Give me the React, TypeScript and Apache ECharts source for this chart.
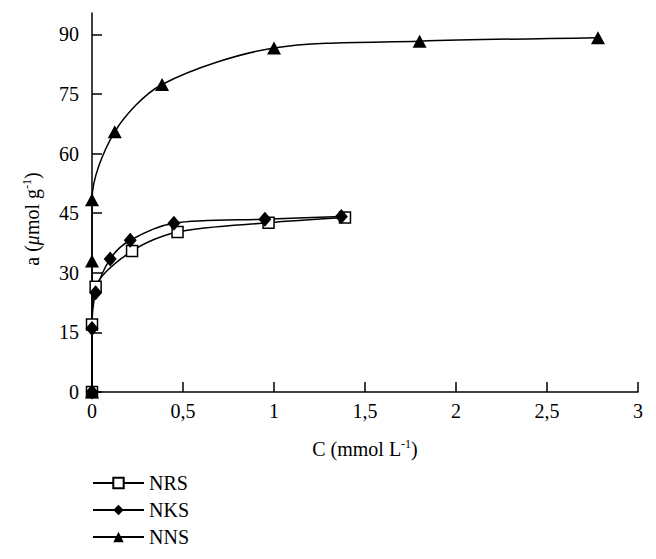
import React, { useEffect, useRef } from "react";
import * as echarts from "echarts";

const nrsX = [0, 0, 0.02, 0.22, 0.47, 0.97, 1.39];
const nrsY = [0, 17, 26.5, 35.5, 40.3, 42.6, 43.9];
const nksX = [0, 0, 0.02, 0.1, 0.21, 0.45, 0.95, 1.37];
const nksY = [0, 16, 25, 33.5, 38.2, 42.5, 43.5, 44.2];
const nnsX = [0, 0, 0, 0.125, 0.385, 1.0, 1.8, 2.78];
const nnsY = [0, 33, 48.4, 65.5, 77.4, 86.6, 88.3, 89.2];
const yTicks = [0, 15, 30, 45, 60, 75, 90];

const FONT = "Liberation Serif";

function pairs(xs: number[], ys: number[]) {
  return xs.map((x, i) => [x, ys[i]]);
}

export default function App() {
  const ref = useRef<HTMLDivElement>(null);
  useEffect(() => {
    if (!ref.current) return;
    const chart = echarts.init(ref.current, undefined, { renderer: "svg" });
    const lineStyle = { color: "#000", width: 1.5 };
    chart.setOption({
      animation: false,
      backgroundColor: "#fff",
      grid: { left: 92, right: 18, top: 13, bottom: 167 },
      xAxis: {
        type: "value",
        min: 0,
        max: 3,
        interval: 0.5,
        splitLine: { show: false },
        axisLine: { lineStyle: { color: "#000", width: 1.5 } },
        axisTick: { inside: true, length: 10, lineStyle: { color: "#000", width: 1.5 } },
        axisLabel: {
          color: "#000",
          fontFamily: FONT,
          fontSize: 20,
          margin: 9,
          formatter: (v: number) => String(v).replace(".", ","),
        },
        name: "{a|C (mmol L}{s|-1}{a|)}",
        nameLocation: "middle",
        nameGap: 46,
        nameTextStyle: {
          color: "#000",
          fontFamily: FONT,
          fontSize: 20,
          rich: {
            a: { fontFamily: FONT, fontSize: 20, color: "#000", lineHeight: 22 },
            s: { fontFamily: FONT, fontSize: 12, color: "#000", verticalAlign: "top", lineHeight: 22 },
          },
        },
      },
      yAxis: {
        type: "value",
        min: 0,
        max: 95.4,
        splitLine: { show: false },
        axisLine: { show: true, lineStyle: { color: "#000", width: 1.5 } },
        axisTick: { show: true, inside: true, length: 10, customValues: yTicks, lineStyle: { color: "#000", width: 1.5 } },
        axisLabel: {
          color: "#000",
          fontFamily: FONT,
          fontSize: 20,
          margin: 13,
          customValues: yTicks,
        },
      },
      legend: {
        orient: "vertical",
        left: 87,
        top: 467,
        itemWidth: 51,
        itemHeight: 13,
        itemGap: 5,
        textStyle: { color: "#000", fontFamily: FONT, fontSize: 20, lineHeight: 22 },
        data: ["NRS", "NKS", "NNS"],
      },
      graphic: [
        {
          type: "text",
          x: 32,
          y: 219,
          rotation: Math.PI / 2,
          style: {
            text: "{a|a (}{i|μ}{a|mol g}{s|-1}{a|)}",
            align: "center",
            verticalAlign: "middle",
            fill: "#000",
            font: `20px ${FONT}`,
            rich: {
              a: { fontFamily: FONT, fontSize: 20, fill: "#000", lineHeight: 22 },
              i: { fontFamily: FONT, fontSize: 20, fontStyle: "italic", fill: "#000", lineHeight: 22 },
              s: { fontFamily: FONT, fontSize: 12, fill: "#000", verticalAlign: "top", lineHeight: 22 },
            },
          },
        },
      ],
      series: [
        {
          name: "NRS",
          type: "line",
          data: pairs(nrsX, nrsY),
          smooth: 0.3,
          clip: false,
          symbol: "rect",
          symbolSize: 11,
          lineStyle,
          itemStyle: { color: "#fff", borderColor: "#000", borderWidth: 1.5 },
          z: 2,
        },
        {
          name: "NKS",
          type: "line",
          data: pairs(nksX, nksY),
          smooth: 0.3,
          clip: false,
          symbol: "diamond",
          symbolSize: [13, 15],
          lineStyle,
          itemStyle: { color: "#000", borderColor: "#000", borderWidth: 0 },
          z: 2,
        },
        {
          name: "NNS",
          type: "line",
          data: pairs(nnsX, nnsY),
          smooth: 0.3,
          clip: false,
          symbol: "triangle",
          symbolSize: [14, 13],
          lineStyle,
          itemStyle: { color: "#000", borderColor: "#000", borderWidth: 0 },
          z: 2,
        },
      ],
    });
    return () => chart.dispose();
  }, []);
  return <div ref={ref} style={{ width: 656, height: 559, position: "absolute", left: 0, top: 0 }} />;
}
